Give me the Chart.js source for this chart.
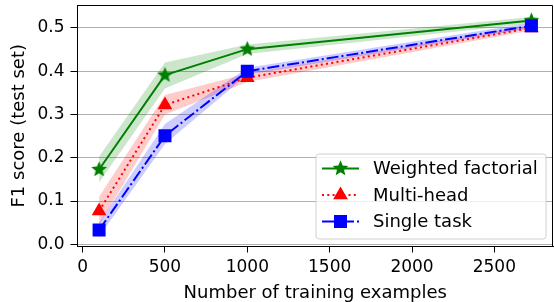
<!DOCTYPE html>
<html>
<head>
<meta charset="utf-8">
<script src="https://cdn.jsdelivr.net/npm/chart.js@4"></script>
<style>
body{margin:0;background:#fff;}
</style>
</head>
<body>
<canvas id="chart" width="554" height="302"></canvas>
<script>
// data
const xValues = [100, 500, 1000, 2725];
const weighted = [0.173, 0.391, 0.451, 0.517];
const weightedLow = [0.143, 0.360, 0.440, 0.510];
const weightedHigh = [0.203, 0.420, 0.462, 0.525];
const multiHead = [0.077, 0.322, 0.385, 0.500];
const multiHeadLow = [0.045, 0.300, 0.375, 0.494];
const multiHeadHigh = [0.110, 0.345, 0.395, 0.506];
const singleTask = [0.033, 0.251, 0.400, 0.505];
const singleTaskLow = [0.018, 0.232, 0.392, 0.499];
const singleTaskHigh = [0.050, 0.278, 0.408, 0.512];
const seriesNames = ["Weighted factorial", "Multi-head", "Single task"];
const xTicks = [0, 500, 1000, 1500, 2000, 2500];
const yTicks = [0.0, 0.1, 0.2, 0.3, 0.4, 0.5];

const FONT = "'DejaVu Sans', sans-serif";

function pts(ys){
	let out = [];
	for(let i in xValues){
		out.push({x: xValues[i], y: ys[i]});
	}
	return out;
}

// filled 5 point star for the weighted factorial marker
function makeStar(r, color){
	let c = document.createElement("canvas");
	c.width = c.height = Math.ceil(r*2+2);
	let g = c.getContext("2d");
	let cx = c.width/2, cy = c.height/2;
	g.beginPath();
	for(let i=0;i<10;i++){
		let rad = i%2==0 ? r : r*0.45;
		let a = -Math.PI/2 + i*Math.PI/5;
		g.lineTo(cx + rad*Math.cos(a), cy + rad*Math.sin(a));
	}
	g.closePath();
	g.fillStyle = color;
	g.fill();
	return c;
}
const star = makeStar(8.2, "#008000");

function band(ys, fillTarget, color){
	return {
		data: pts(ys),
		showLine: fillTarget!==undefined,
		borderWidth: 0,
		borderColor: "rgba(0,0,0,0)",
		backgroundColor: color,
		pointRadius: 0,
		fill: fillTarget===undefined ? false : {target: fillTarget}
	};
}

const datasets = [
	{data: pts(singleTask), borderColor: "#0000ff", backgroundColor: "#0000ff", borderWidth: 2,
		borderDash: [12, 3, 2, 3], pointStyle: "rect", pointRadius: 9.2, pointBorderWidth: 0, fill: false},
	{data: pts(multiHead), borderColor: "#ff0000", backgroundColor: "#ff0000", borderWidth: 2,
		borderDash: [2, 3.3], pointStyle: "triangle", pointRadius: 8.5, pointBorderWidth: 0, fill: false},
	{data: pts(weighted), borderColor: "#008000", backgroundColor: "#008000", borderWidth: 2,
		pointStyle: star, pointRadius: 9, fill: false},
	band(singleTaskLow, undefined, "rgba(0,0,255,0.2)"),
	band(singleTaskHigh, 3, "rgba(0,0,255,0.2)"),
	band(multiHeadLow, undefined, "rgba(255,0,0,0.2)"),
	band(multiHeadHigh, 5, "rgba(255,0,0,0.2)"),
	band(weightedLow, undefined, "rgba(0,128,0,0.2)"),
	band(weightedHigh, 7, "rgba(0,128,0,0.2)")
];

// frame + legend box drawn like matplotlib
const framePlugin = {
	id: "frame",
	afterDatasetsDraw(chart){
		let ctx = chart.ctx, a = chart.chartArea;
		ctx.save();
		ctx.strokeStyle = "#000";
		ctx.lineWidth = 1;
		ctx.beginPath();
		ctx.moveTo(Math.round(a.left), Math.round(a.top)+0.5);
		ctx.lineTo(Math.round(a.right)-0.5, Math.round(a.top)+0.5);
		ctx.lineTo(Math.round(a.right)-0.5, Math.round(a.bottom));
		ctx.stroke();

		// legend
		let bx = 316, by = 154, bw = 230, bh = 85, r = 3;
		ctx.beginPath();
		ctx.moveTo(bx+r, by);
		ctx.arcTo(bx+bw, by, bx+bw, by+bh, r);
		ctx.arcTo(bx+bw, by+bh, bx, by+bh, r);
		ctx.arcTo(bx, by+bh, bx, by, r);
		ctx.arcTo(bx, by, bx+bw, by, r);
		ctx.closePath();
		ctx.fillStyle = "rgba(255,255,255,0.8)";
		ctx.fill();
		ctx.strokeStyle = "#d0d0d0";
		ctx.stroke();

		let rows = [
			{y: 168.5, color: "#008000", dash: [], style: star, rad: 9},
			{y: 195, color: "#ff0000", dash: [2, 3.3], style: "triangle", rad: 8.5},
			{y: 221.5, color: "#0000ff", dash: [12, 3, 2, 3], style: "rect", rad: 9.2}
		];
		for(let i in rows){
			let row = rows[i];
			ctx.beginPath();
			ctx.setLineDash(row.dash);
			ctx.strokeStyle = row.color;
			ctx.lineWidth = 2;
			ctx.moveTo(322, row.y);
			ctx.lineTo(359, row.y);
			ctx.stroke();
			ctx.setLineDash([]);
			ctx.fillStyle = row.color;
			Chart.helpers.drawPoint(ctx, {pointStyle: row.style, radius: row.rad, rotation: 0, borderWidth: 0}, 340.5, row.y);
			ctx.fillStyle = "#000";
			ctx.font = "18px " + FONT;
			ctx.textBaseline = "middle";
			ctx.textAlign = "left";
			ctx.fillText(seriesNames[i], 373, row.y+1);
		}
		ctx.restore();
	}
};

new Chart(document.getElementById("chart"), {
	type: "line",
	data: {datasets: datasets},
	options: {
		responsive: false,
		animation: false,
		layout: {autoPadding: false, padding: {left: 0, top: 5, right: 1, bottom: 0}},
		plugins: {legend: {display: false}, tooltip: {enabled: false}},
		scales: {
			x: {
				type: "linear",
				min: -31,
				max: 2856,
				afterBuildTicks: function(s){ s.ticks = xTicks.map(v => ({value: v})); },
				afterFit: function(s){ s.height = 55.5; s.paddingLeft = 0; s.paddingRight = 0; },
				grid: {drawOnChartArea: false, tickLength: 6, tickColor: "#000"},
				border: {color: "#000", width: 1},
				ticks: {color: "#000", padding: 5, font: {family: FONT, size: 17}, maxRotation: 0,
					autoSkip: false, callback: function(v){ return String(v); }},
				title: {display: true, text: "Number of training examples", color: "#000",
					font: {family: FONT, size: 18}, padding: {top: 0, bottom: -2}}
			},
			y: {
				min: -0.005,
				max: 0.553,
				afterBuildTicks: function(s){ s.ticks = yTicks.map(v => ({value: v})); },
				afterFit: function(s){ s.width = 77.5; s.paddingTop = 0; s.paddingBottom = 0; },
				grid: {color: "#b0b0b0", lineWidth: 1, tickLength: 7, tickColor: "#000"},
				border: {color: "#000", width: 1},
				ticks: {color: "#000", padding: 6, font: {family: FONT, size: 17}, autoSkip: false,
					callback: function(v){ return v.toFixed(1); }},
				title: {display: true, text: "F1 score (test set)", color: "#000",
					font: {family: FONT, size: 18}, padding: {top: 8.5, bottom: 0}}
			}
		}
	},
	plugins: [framePlugin]
});
</script>
</body>
</html>
